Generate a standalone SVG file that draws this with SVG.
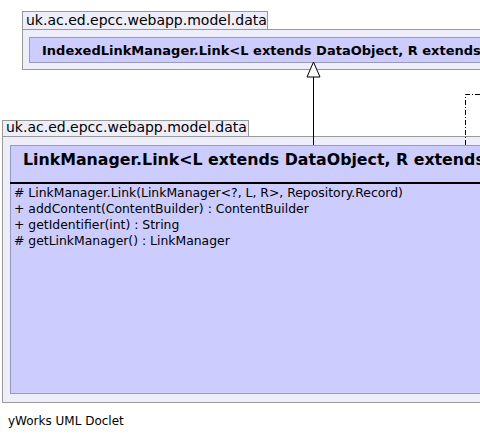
<svg xmlns="http://www.w3.org/2000/svg" width="480" height="439" viewBox="0 0 480 439">
<style>
.pkg{fill:#eeeefa;stroke:#999999;stroke-width:1}
.cls{fill:#ccccff;stroke:#9999bb;stroke-width:1}
.t{font-family:"DejaVu Sans",sans-serif;fill:#000}
.pl{font-size:14px}
.m{font-size:12.4px}
</style>
<rect width="480" height="439" fill="#ffffff"/>
<g id="pkg1">
<rect class="pkg" x="22.5" y="11.5" width="245" height="18"/>
<rect class="pkg" x="22.5" y="29.5" width="470" height="40"/>
<text class="t pl" x="26" y="25">uk.ac.ed.epcc.webapp.model.data</text>
</g>
<g id="IndexedLinkManager.Link">
<rect class="cls" x="29.5" y="37.5" width="460" height="25"/>
<text class="t" x="42" y="55" font-size="13" font-weight="bold">IndexedLinkManager.Link&lt;L extends DataObject, R extends</text>
</g>
<g id="pkg2">
<rect class="pkg" x="2.5" y="120.5" width="246" height="16"/>
<rect class="pkg" x="2.5" y="136.5" width="490" height="266"/>
<text class="t pl" x="6" y="132">uk.ac.ed.epcc.webapp.model.data</text>
</g>
<g id="LinkManager.Link">
<rect class="cls" x="10.5" y="145.5" width="480" height="248"/>
<text class="t" x="23" y="165" font-size="15.8" font-weight="bold">LinkManager.Link&lt;L extends DataObject, R extends</text>
<line x1="10" y1="183" x2="480" y2="183" stroke="#000" stroke-width="2"/>
<text class="t m" x="14" y="197"># LinkManager.Link(LinkManager&lt;?, L, R&gt;, Repository.Record)</text>
<text class="t m" x="14" y="213">+ addContent(ContentBuilder) : ContentBuilder</text>
<text class="t m" x="14" y="229">+ getIdentifier(int) : String</text>
<text class="t m" x="14" y="245"># getLinkManager() : LinkManager</text>
</g>
<g id="connectors">
<line x1="313.5" y1="77" x2="313.5" y2="145" stroke="#000" stroke-width="1"/>
<polygon points="313.5,62 307,77 320,77" fill="#fff" stroke="#000" stroke-width="1"/>
<polyline points="480,94.5 465.5,94.5 465.5,145" fill="none" stroke="#000" stroke-width="1" stroke-dasharray="5,2,1,2"/>
</g>
<text class="t" x="8" y="425" font-size="12">yWorks UML Doclet</text>
</svg>
